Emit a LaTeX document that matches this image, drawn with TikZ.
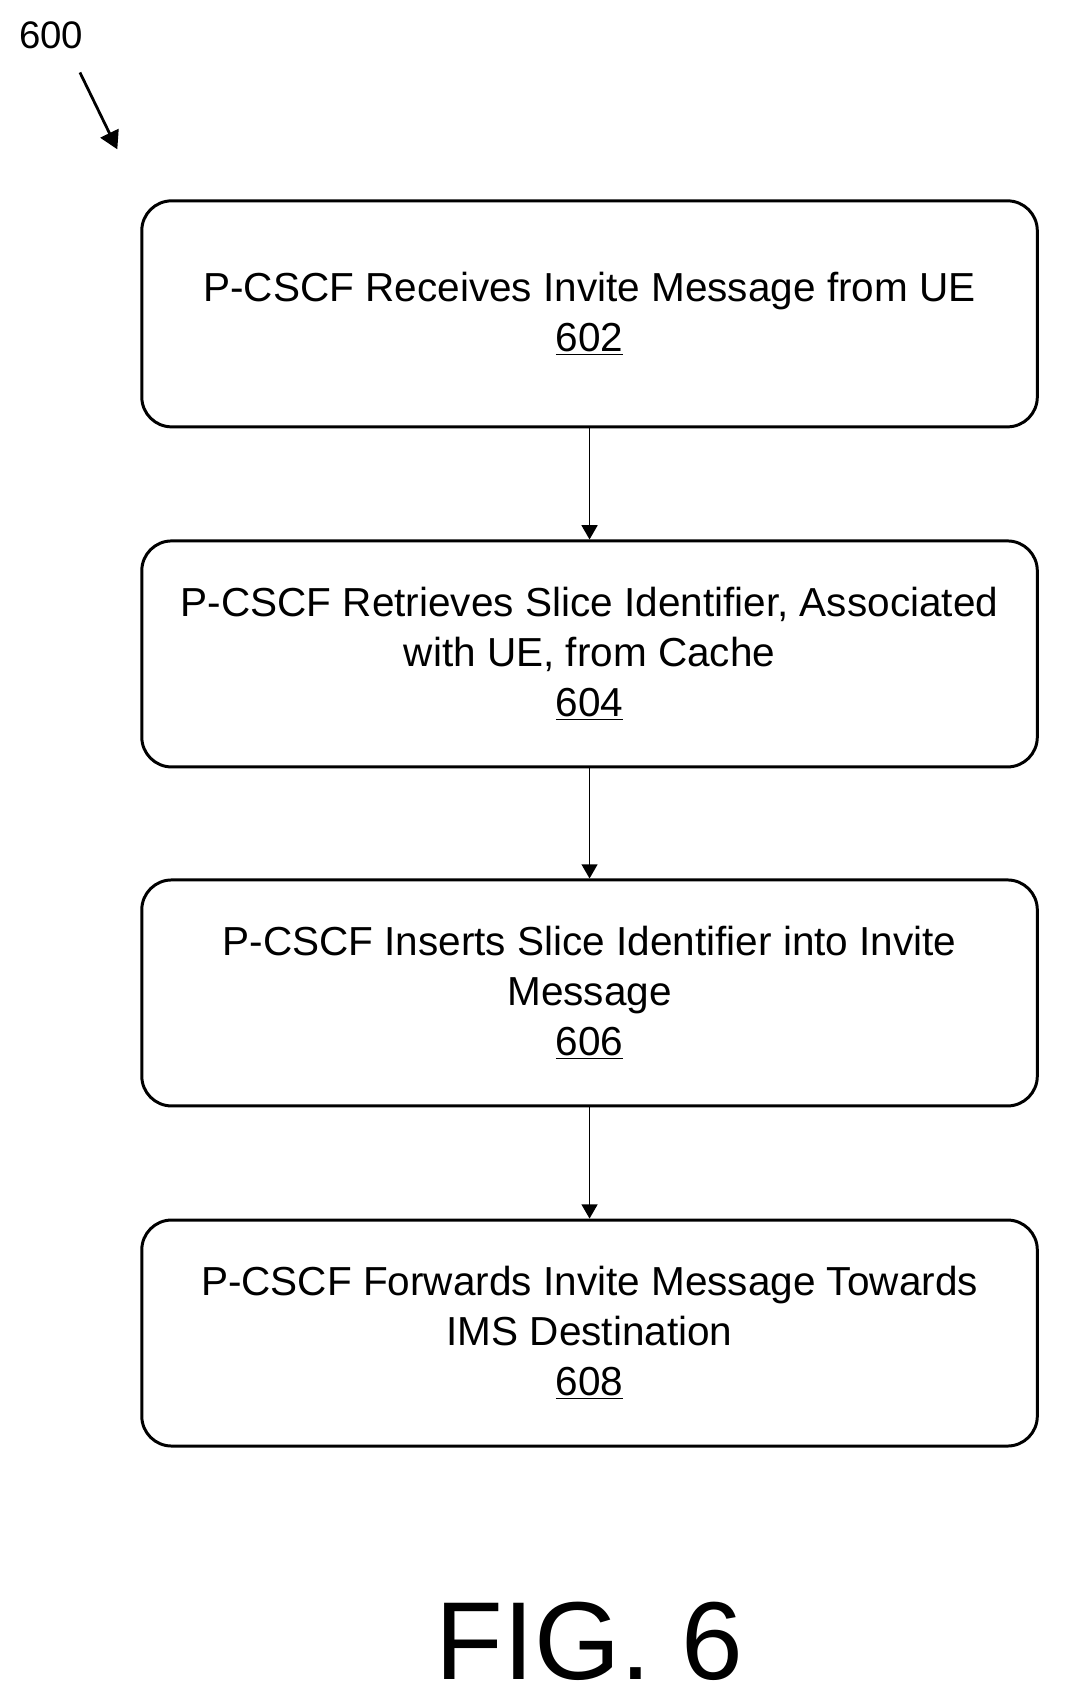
\documentclass[tikz,border=0pt]{standalone}
\usepackage{fontspec}
\setmainfont{Liberation Sans}
\usetikzlibrary{positioning,arrows}

\begin{document}
\begin{tikzpicture}[x=0.5pt,y=-0.5pt,>=stealth,
  flowbox/.style={draw,line width=1.4pt,rounded corners=14pt,minimum width=420pt,minimum height=106pt,align=center,font=\fontsize{19}{23.5}\selectfont,anchor=north},
  link/.style={->,line width=0.8pt,>={triangle 60}}]

\useasboundingbox (0,0) rectangle (1000,1589);

\node (label) at (48,33) {\fontsize{18}{20}\selectfont 600};
\coordinate (tail) at (75,68);
\coordinate (head) at (110,140);
\draw[->,line width=1.3pt,>={triangle 60}] (tail) -- (head);

\node[flowbox] (s602) at (553,187) {P-CSCF Receives Invite Message from UE\\\underline{602}};
\node[flowbox] (s604) at (553,506) {P-CSCF Retrieves Slice Identifier, Associated\\with UE, from Cache\\\underline{604}};
\node[flowbox] (s606) at (553,824) {P-CSCF Inserts Slice Identifier into Invite\\Message\\\underline{606}};
\node[flowbox] (s608) at (553,1143) {P-CSCF Forwards Invite Message Towards\\IMS Destination\\\underline{608}};

\draw[link] (s602) -- (s604);
\draw[link] (s604) -- (s606);
\draw[link] (s606) -- (s608);

\node (fig) at (553,1540) {\fontsize{52}{56}\selectfont FIG. 6};
\end{tikzpicture}
\end{document}
